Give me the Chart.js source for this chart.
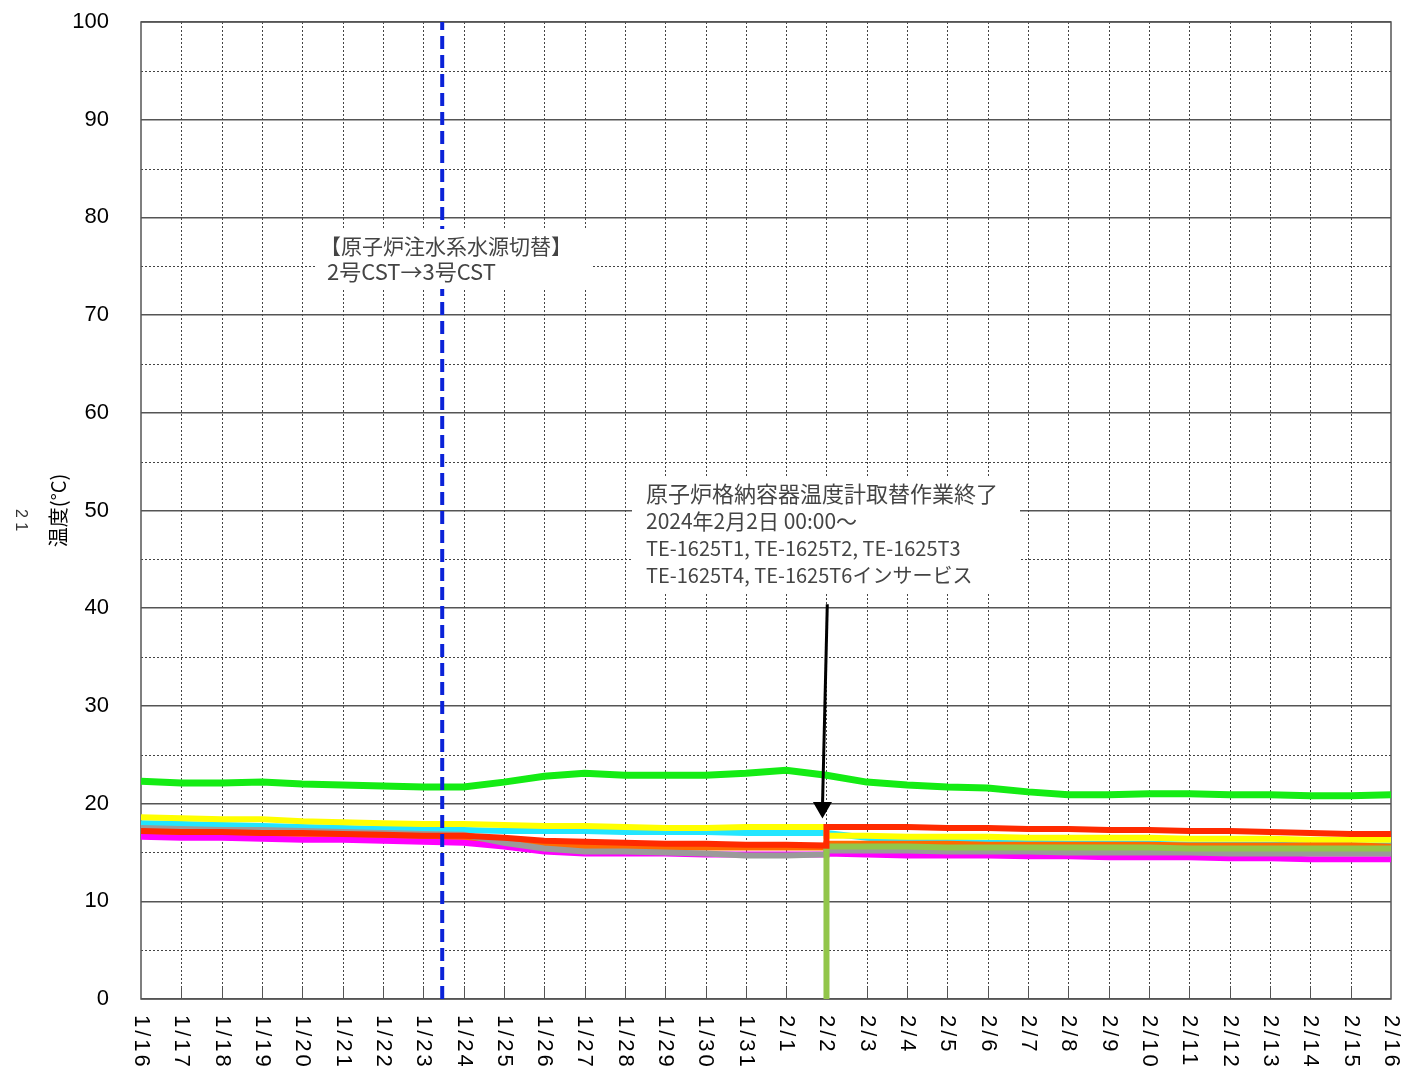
<!DOCTYPE html>
<html>
<head>
<meta charset="utf-8">
<script src="https://cdn.jsdelivr.net/npm/chart.js@4"></script>
<style>
  html, body { margin: 0; padding: 0; background: #fff; }
  #wrap { width: 1405px; height: 1069px; position: relative; }
</style>
</head>
<body>
<div id="wrap"><canvas id="chart" width="1405" height="1069"></canvas></div>
<script>
// x axis: day index 0 = 1/16 00:00, one label per day
const xLabels = ['1/16','1/17','1/18','1/19','1/20','1/21','1/22','1/23','1/24','1/25','1/26','1/27','1/28','1/29','1/30','1/31',
                 '2/1','2/2','2/3','2/4','2/5','2/6','2/7','2/8','2/9','2/10','2/11','2/12','2/13','2/14','2/15','2/16'];
const yTicks = [0, 10, 20, 30, 40, 50, 60, 70, 80, 90, 100];
const changeDay = 17; // 2/2 00:00

// daily readings (°C), 1/16 .. 2/16
const green  = [22.3,22.1,22.1,22.2,22.0,21.9,21.8,21.7,21.7,22.2,22.8,23.1,22.9,22.9,22.9,23.1,
                23.4,22.9,22.2,21.9,21.7,21.6,21.2,20.9,20.9,21.0,21.0,20.9,20.9,20.8,20.8,20.9];
const cyan   = [18.0,17.9,17.8,17.7,17.6,17.5,17.4,17.4,17.3,17.2,17.2,17.2,17.1,17.1,17.1,17.0,
                17.0,17.0,16.5,16.2,16.1,16.0,16.0,15.9,15.9,15.9,15.8,15.8,15.8,15.7,15.7,15.7];
// before 2/2 (days 0..17) and after 2/2 (days 17..31)
const yellowBefore = [18.6,18.5,18.4,18.4,18.2,18.1,18.0,17.9,17.9,17.8,17.7,17.7,17.6,17.5,17.5,17.6,17.6,17.6];
const yellowAfter  = [16.7,16.7,16.6,16.6,16.6,16.5,16.5,16.5,16.5,16.4,16.4,16.4,16.3,16.3,16.3];
const grayBefore   = [17.5,17.4,17.3,17.3,17.2,17.1,17.0,16.9,16.8,16.0,15.4,15.1,15.1,15.0,14.9,14.7,14.7,14.8];
const grayAfter    = [15.2,15.2,15.2,15.1,15.1,15.1,15.0,15.0,15.0,15.0,14.9,14.9,14.9,14.9,14.9];
const orangeBefore = [17.1,17.0,17.0,16.9,16.9,16.8,16.7,16.6,16.5,16.1,15.8,15.6,15.5,15.5,15.5,15.5,15.5,15.5];
const orangeAfter  = [15.9,15.9,15.9,15.9,15.8,15.8,15.8,15.8,15.8,15.7,15.7,15.7,15.7,15.7,15.6];
const redBefore    = [17.2,17.1,17.1,17.0,17.0,16.9,16.8,16.7,16.7,16.5,16.2,16.1,16.0,15.9,15.9,15.8,15.8,15.7];
const redAfter     = [17.6,17.6,17.6,17.5,17.5,17.4,17.4,17.3,17.3,17.2,17.2,17.1,17.0,16.9,16.9];
const magentaBefore= [16.6,16.5,16.5,16.4,16.3,16.3,16.2,16.1,16.0,15.6,15.1,14.9,14.9,14.9,14.8,14.8,14.8,14.8];
const magentaAfter = [14.9,14.8,14.7,14.7,14.7,14.6,14.6,14.5,14.5,14.5,14.4,14.4,14.3,14.3,14.3];
const oliveStart   = 0;
const oliveAfter   = [15.6,15.6,15.6,15.5,15.5,15.5,15.5,15.5,15.5,15.4,15.4,15.4,15.4,15.4,15.4];

// annotations (data units)
const switchDay = 7.47;              // 原子炉注水系水源切替
const arrowLine = [[17.02, 40.4], [16.9, 19.6]];

function pts(values, startDay) {
    return values.map((v, i) => ({ x: startDay + i, y: v }));
}
function split(before, after) {
    return pts(before, 0).concat(pts(after, changeDay));
}

const FONT = '"Liberation Sans", Arial, sans-serif';
const JP = '"Noto Sans CJK JP", "Noto Sans", sans-serif';

function lineSet(data, color, width, order) {
    return { data: data, borderColor: color, backgroundColor: color, borderWidth: width,
             pointRadius: 0, tension: 0, order: order, fill: false };
}

const datasets = [
    lineSet(split(redBefore, redAfter), '#ff2a00', 6, 2),
    lineSet([{ x: changeDay, y: oliveStart }].concat(pts(oliveAfter, changeDay)), '#92c64a', 6, 3),
    lineSet(split(magentaBefore, magentaAfter), '#ff00ff', 6, 5),
    lineSet(split(grayBefore, grayAfter), '#9a9a9a', 6, 4),
    lineSet(split(orangeBefore, orangeAfter), '#ff6a00', 6, 6),
    lineSet(split(yellowBefore, yellowAfter), '#ffff00', 6, 7),
    lineSet(pts(cyan, 0), '#22e6ff', 6, 8),
    lineSet(pts(green, 0), '#14ec14', 7, 9),
    Object.assign(lineSet([{ x: switchDay, y: 0 }, { x: switchDay, y: 100 }], '#0a22d8', 4, 1),
                  { borderDash: [13, 6] }),
    Object.assign(lineSet(arrowLine.map(p => ({ x: p[0], y: p[1] })), '#000', 3, 0),
                  { pointRadius: [0, 8], pointStyle: 'triangle', rotation: 180,
                    pointBackgroundColor: '#000', pointBorderColor: '#000' })
];

// grid, frame, rotated x labels and the two note boxes
const decor = {
    id: 'decor',
    beforeDatasetsDraw(chart) {
        const { ctx, chartArea: a, scales: { x, y } } = chart;
        ctx.save();
        ctx.strokeStyle = '#444';
        ctx.lineWidth = 1;
        ctx.setLineDash([2, 2]);
        for (let v = 5; v < 100; v += 10) {
            const py = Math.round(y.getPixelForValue(v)) + 0.5;
            ctx.beginPath(); ctx.moveTo(a.left, py); ctx.lineTo(a.right, py); ctx.stroke();
        }
        for (let d = 1; d < xLabels.length - 1; d++) {
            const px = Math.round(x.getPixelForValue(d)) + 0.5;
            ctx.beginPath(); ctx.moveTo(px, a.top); ctx.lineTo(px, a.bottom); ctx.stroke();
        }
        ctx.setLineDash([]);
        ctx.strokeStyle = '#555';
        for (let d = 1; d < xLabels.length - 1; d++) {
            const px = Math.round(x.getPixelForValue(d)) + 0.5;
            ctx.beginPath(); ctx.moveTo(px, a.bottom - 12); ctx.lineTo(px, a.bottom); ctx.stroke();
        }
        ctx.strokeStyle = '#555';
        ctx.lineWidth = 1.5;
        ctx.strokeRect(a.left, a.top, a.right - a.left, a.bottom - a.top);
        ctx.restore();
    },
    afterDatasetsDraw(chart) {
        const { ctx } = chart;
        ctx.save();
        // note boxes
        ctx.fillStyle = '#fff';
        ctx.fillRect(315, 229, 278, 60);
        ctx.fillRect(632, 478, 388, 114);
        ctx.fillStyle = '#444';
        ctx.textBaseline = 'middle';
        ctx.font = '21px ' + JP;
        ctx.fillText('【原子炉注水系水源切替】', 320, 246);
        ctx.font = '22px ' + JP;
        ctx.fillText('2号CST→3号CST', 327, 272);
        ctx.font = '22px ' + JP;
        ctx.fillText('原子炉格納容器温度計取替作業終了', 646, 494);
        ctx.font = '21px ' + JP;
        ctx.fillText('2024年2月2日 00:00～', 646, 521);
        ctx.font = '20px ' + JP;
        ctx.fillText('TE-1625T1, TE-1625T2, TE-1625T3', 646, 548);
        ctx.fillText('TE-1625T4, TE-1625T6インサービス', 646, 575);
        ctx.restore();
    },
    afterDraw(chart) {
        const { ctx, chartArea: a, scales: { x } } = chart;
        ctx.save();
        ctx.fillStyle = '#000';
        ctx.font = '22px ' + FONT;
        ctx.letterSpacing = '3px';
        ctx.textAlign = 'left';
        ctx.textBaseline = 'middle';
        xLabels.forEach((lab, i) => {
            ctx.save();
            ctx.translate(x.getPixelForValue(i), a.bottom + 16);
            ctx.rotate(Math.PI / 2);
            ctx.fillText(lab, 0, 0);
            ctx.restore();
        });
        ctx.letterSpacing = '0px';
        ctx.fillStyle = '#333';
        ctx.font = '16px ' + FONT;
        ctx.translate(20, 520);
        ctx.rotate(Math.PI / 2);
        ctx.textAlign = 'center';
        ctx.fillText('2 1', 0, 0);
        ctx.restore();
    }
};

new Chart(document.getElementById('chart').getContext('2d'), {
    type: 'line',
    data: { datasets: datasets },
    options: {
        responsive: false,
        animation: false,
        layout: { padding: { top: 22, right: 14, left: 0, bottom: 0 } },
        plugins: { legend: { display: false }, tooltip: { enabled: false } },
        scales: {
            x: {
                type: 'linear', min: 0, max: xLabels.length - 1,
                ticks: { display: false, stepSize: 1 },
                grid: { display: false },
                border: { display: false },
                afterFit(scale) { scale.height = 70; scale.paddingLeft = 0; scale.paddingRight = 0; }
            },
            y: {
                min: yTicks[0], max: yTicks[yTicks.length - 1],
                afterBuildTicks(scale) { scale.ticks = yTicks.map(v => ({ value: v })); },
                ticks: { color: '#000', font: { family: FONT, size: 22 }, padding: 32 },
                grid: { color: '#555', lineWidth: 1.5, drawTicks: false },
                border: { display: false },
                title: { display: true, text: '温度(°C)', color: '#000',
                         font: { family: JP, size: 20 }, padding: { top: 46, bottom: 0 } },
                afterFit(scale) { scale.width = 141; scale.paddingTop = 0; scale.paddingBottom = 0; }
            }
        }
    },
    plugins: [decor]
});
</script>
</body>
</html>
